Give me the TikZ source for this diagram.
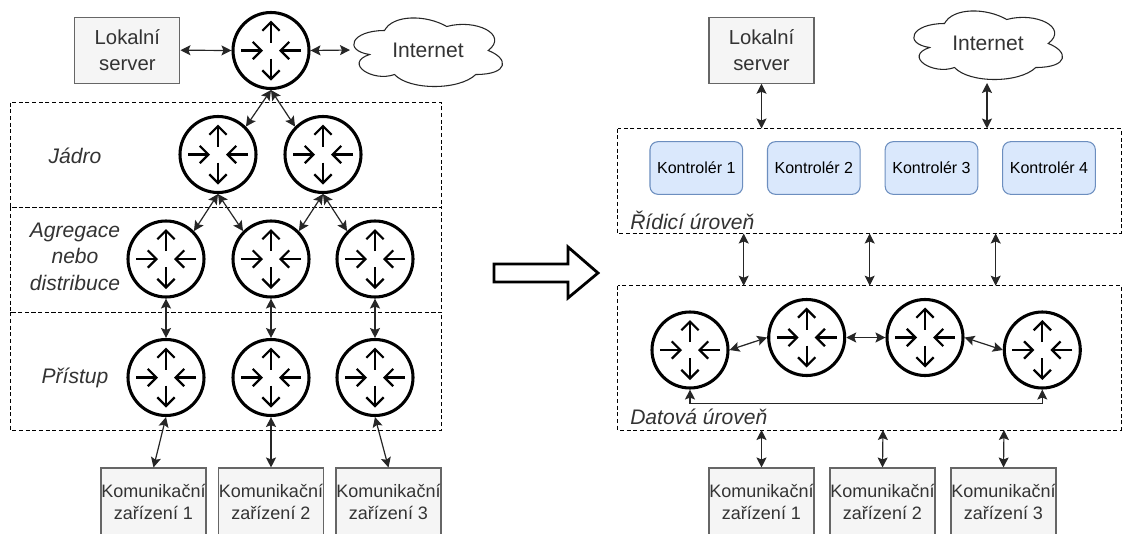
\documentclass[tikz,border=0pt]{standalone}
\usepackage{fontspec}
\setmainfont{Liberation Sans}
\usetikzlibrary{arrows.meta}
\definecolor{ctrlfill}{HTML}{DAE8FC}
\definecolor{ctrlline}{HTML}{6C8EBF}
\definecolor{boxfill}{HTML}{F5F5F5}
\definecolor{boxline}{HTML}{666666}
\definecolor{boxtext}{HTML}{333333}
\tikzset{
  x=0.75pt,y=-0.75pt,
  routernode/.style={circle,draw=black,line width=2.3pt,fill=white,minimum size=57pt,inner sep=0pt},
  routerarrow/.style={line width=1.7pt,-{Straight Barb[length=6.5pt,width=13pt,line width=1.7pt]}},
  link/.style={draw=black!85,line width=0.9pt,{Stealth[length=7.5pt,width=7.5pt,inset=1.5pt]}-{Stealth[length=7.5pt,width=7.5pt,inset=1.5pt]}},
  zone/.style={draw=black,line width=0.7pt,dash pattern=on 3pt off 2pt},
  greybox/.style={rectangle,draw=boxline,fill=boxfill,line width=0.8pt,text=boxtext,inner sep=0pt,align=center},
  serverbox/.style={greybox,minimum width=78.75pt,minimum height=49.5pt,font=\fontsize{15.2}{19.5}\selectfont},
  devicebox/.style={greybox,minimum width=78.75pt,minimum height=51pt,font=\fontsize{13.5}{16}\selectfont},
  controller/.style={rectangle,rounded corners=6pt,draw=ctrlline,fill=ctrlfill,line width=0.8pt,inner sep=0pt,minimum width=69.5pt,minimum height=39.5pt,font=\fontsize{12}{14}\selectfont},
  zonelabel/.style={font=\fontsize{15.8}{19.8}\selectfont\itshape,text=boxtext,inner sep=0pt,align=center},
  cloudlabel/.style={font=\fontsize{15.8}{19}\selectfont,text=boxtext,inner sep=0pt},
  cloudshape/.style={draw=black!85,fill=white,line width=0.8pt},
}
\newcommand{\router}[3]{%
  \node[routernode] (#1) at (#2,#3) {};
  \draw[routerarrow] (#2-30,#3) -- (#2-8,#3);
  \draw[routerarrow] (#2+30,#3) -- (#2+8,#3);
  \draw[routerarrow] (#2,#3-8) -- (#2,#3-30);
  \draw[routerarrow] (#2,#3+8) -- (#2,#3+30);
}
\newcommand{\netcloud}[3]{%
  \draw[cloudshape] (#2+.25*166,#3+.25*80)
    .. controls (#2+.05*166,#3+.25*80) and (#2,#3+.5*80) .. (#2+.16*166,#3+.55*80)
    .. controls (#2,#3+.66*80) and (#2+.18*166,#3+.9*80) .. (#2+.31*166,#3+.8*80)
    .. controls (#2+.4*166,#3+80) and (#2+.7*166,#3+80) .. (#2+.8*166,#3+.8*80)
    .. controls (#2+166,#3+.8*80) and (#2+166,#3+.6*80) .. (#2+.875*166,#3+.5*80)
    .. controls (#2+166,#3+.3*80) and (#2+.8*166,#3+.1*80) .. (#2+.625*166,#3+.2*80)
    .. controls (#2+.5*166,#3+.05*80) and (#2+.3*166,#3+.05*80) .. (#2+.25*166,#3+.25*80) -- cycle;
  \node[cloudlabel] (#1) at (#2+85,#3+40) {Internet};
}
\begin{document}
\begin{tikzpicture}
\useasboundingbox (0,0) rectangle (1122,533);
\fill[white] (0,0) rectangle (1122,533);

% left zones
\draw[zone] (10,102.7) rectangle (441.7,207.3);
\draw[zone] (10,207.3) rectangle (441.7,312.3);
\draw[zone] (10,312.3) rectangle (441.7,430);

% left nodes
\node[serverbox] (srvL) at (127.4,50.2) {Lokalní\\server};
\netcloud{netL}{343}{10.5}
\coordinate (netLend) at (350,50);
\router{top}{271}{50.5}
\router{c1}{218}{154.5}
\router{c2}{323}{154.5}
\router{a1}{166}{259}
\router{a2}{271}{259}
\router{a3}{375}{259}
\router{p1}{166}{377.5}
\router{p2}{271}{377.5}
\router{p3}{375}{377.5}
\node[devicebox] (d1) at (153.5,502) {Komunikační\\zařízení 1};
\node[devicebox] (d2) at (271,502) {Komunikační\\zařízení 2};
\node[devicebox] (d3) at (388.5,502) {Komunikační\\zařízení 3};

\node[zonelabel] (lj) at (75,155.5) {Jádro};
\node[zonelabel] (la) at (75,256.5) {Agregace\\nebo\\distribuce};
\node[zonelabel] (lp) at (75,378) {Přístup};

% left links
\draw[link] (srvL.east) -- (top.west);
\draw[link] (top.east) -- (netLend);
\draw[link] (top.south) -- (c1.45);
\draw[link] (top.south) -- (c2.135);
\draw[link] (c1.south) -- (a1.45);
\draw[link] (c1.south) -- (a2.135);
\draw[link] (c2.south) -- (a2.45);
\draw[link] (c2.south) -- (a3.135);
\draw[link] (a1.south) -- (p1.north);
\draw[link] (a2.south) -- (p2.north);
\draw[link] (a3.south) -- (p3.north);
\draw[link] (p1.south) -- (d1.north);
\draw[link] (p2.south) -- (d2.north);
\draw[link] (p3.south) -- (d3.north);

% big arrow
\draw[line width=2.1pt,fill=white,miter limit=10] (494,264) -- (568,264) -- (568,247) -- (598,273) -- (568,298) -- (568,282) -- (494,282) -- cycle;

% right zones
\draw[zone] (617.7,128.5) rectangle (1121,233.5);
\draw[zone] (617.7,285.7) rectangle (1121,430);
\node[zonelabel,anchor=west] (lr) at (630,220) {Řídicí úroveň};
\node[zonelabel,anchor=west] (ld) at (630,416.5) {Datová úroveň};
\coordinate (zt1) at (761.5,128.5);
\coordinate (zt2) at (987,128.5);
\coordinate (zb1) at (743.7,233.5);
\coordinate (zb2) at (869.7,233.5);
\coordinate (zb3) at (995.7,233.5);
\coordinate (zc1) at (743.7,285.7);
\coordinate (zc2) at (869.7,285.7);
\coordinate (zc3) at (995.7,285.7);
\coordinate (ze1) at (761.5,430);
\coordinate (ze2) at (883,430);
\coordinate (ze3) at (1004,430);

% right nodes
\node[serverbox] (srvR) at (761.5,50.2) {Lokalní\\server};
\netcloud{netR}{903}{3.5}
\coordinate (netRend) at (987,83);
\node[controller] (k1) at (696.3,168) {Kontrolér 1};
\node[controller] (k2) at (813.8,168) {Kontrolér 2};
\node[controller] (k3) at (931.5,168) {Kontrolér 3};
\node[controller] (k4) at (1049,168) {Kontrolér 4};
\router{r1}{690}{350}
\router{r2}{806.7}{337.5}
\router{r3}{925}{337.5}
\router{r4}{1042.3}{350}
\node[devicebox] (e1) at (761.5,502) {Komunikační\\zařízení 1};
\node[devicebox] (e2) at (882.5,502) {Komunikační\\zařízení 2};
\node[devicebox] (e3) at (1003.5,502) {Komunikační\\zařízení 3};

% right links
\draw[link] (srvR.south) -- (zt1);
\draw[link] (netRend) -- (zt2);
\draw[link] (zb1) -- (zc1);
\draw[link] (zb2) -- (zc2);
\draw[link] (zb3) -- (zc3);
\draw[link] (r1.east) -- (r2.west);
\draw[link] (r2.east) -- (r3.west);
\draw[link] (r3.east) -- (r4.west);
\draw[link] (r1.south) -- ++(0,14) -| (r4.south);
\draw[link] (ze1) -- (e1.north);
\draw[link] (ze2) -- (e2.north);
\draw[link] (ze3) -- (e3.north);
\end{tikzpicture}
\end{document}
